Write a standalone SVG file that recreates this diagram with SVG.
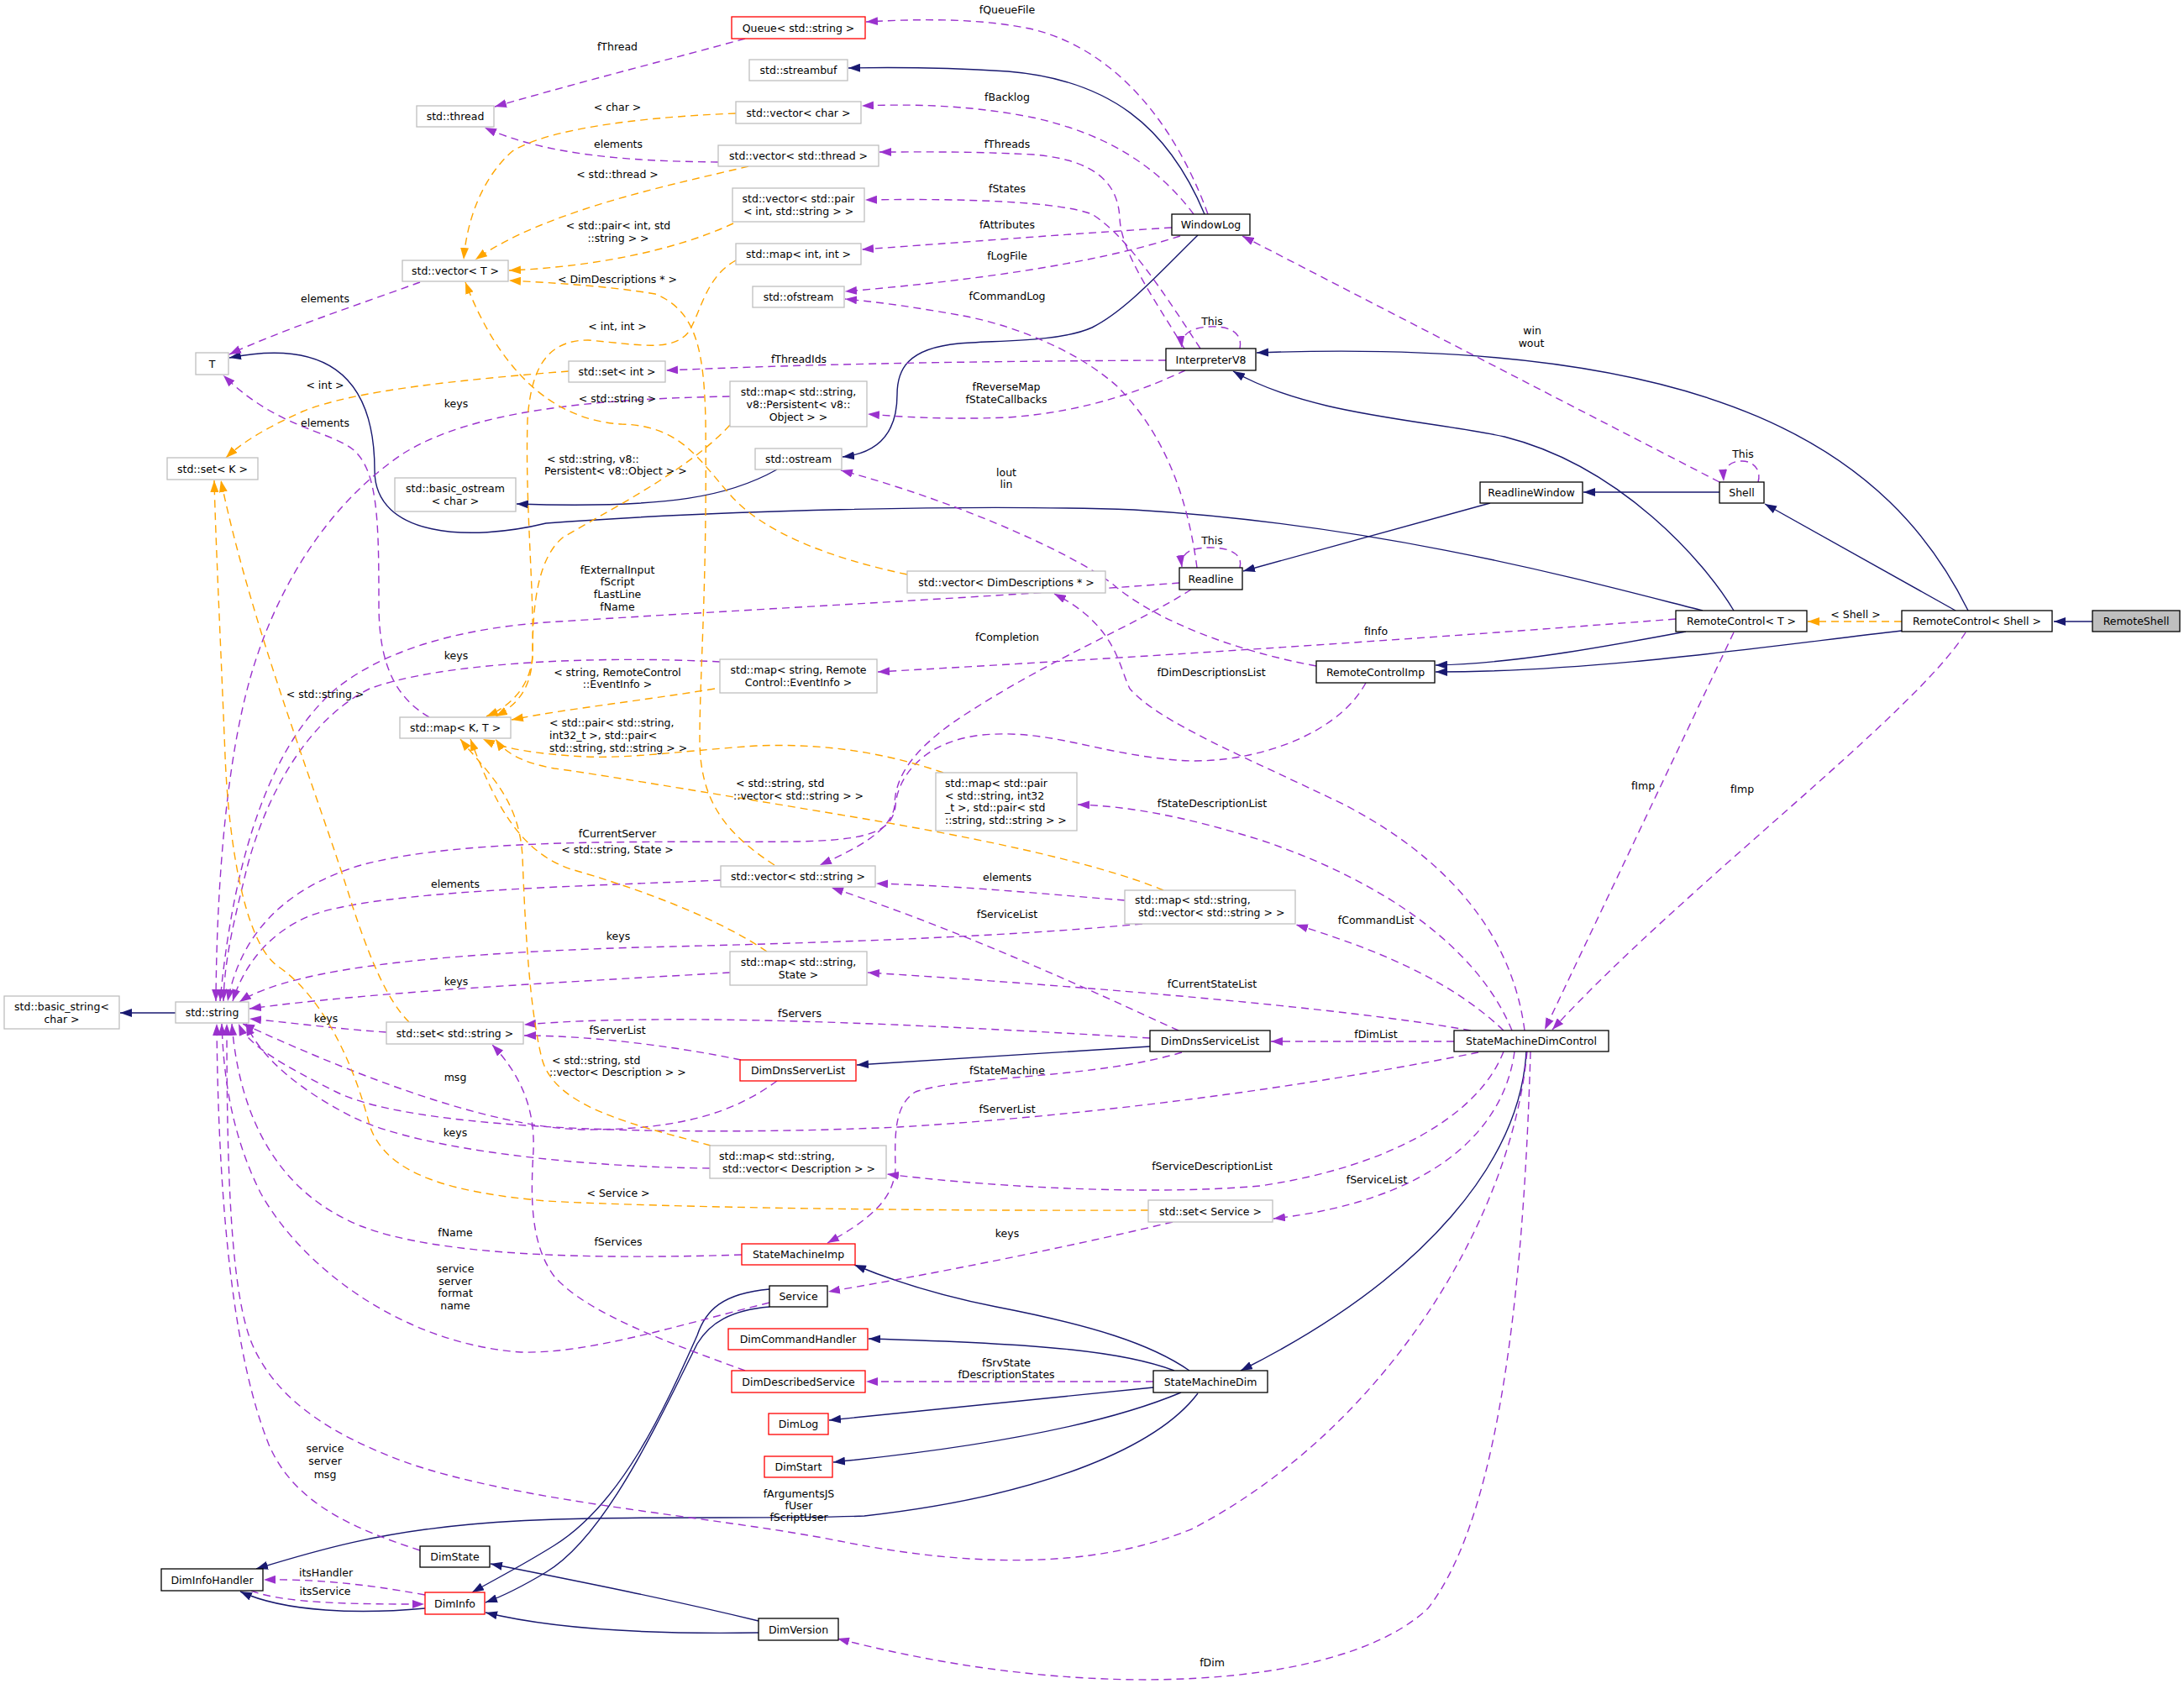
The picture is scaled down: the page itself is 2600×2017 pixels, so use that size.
<svg xmlns="http://www.w3.org/2000/svg" width="2600" height="2017" viewBox="0 0 2600 2017">
<defs>
<marker id="mb" viewBox="0 0 14 10" refX="14" refY="5" markerWidth="14" markerHeight="10" markerUnits="userSpaceOnUse" orient="auto"><path d="M0,0 L14,5 L0,10 z" fill="#191970"/></marker>
<marker id="mp" viewBox="0 0 14 10" refX="14" refY="5" markerWidth="14" markerHeight="10" markerUnits="userSpaceOnUse" orient="auto"><path d="M0,0 L14,5 L0,10 z" fill="#9a32cd"/></marker>
<marker id="mo" viewBox="0 0 14 10" refX="14" refY="5" markerWidth="14" markerHeight="10" markerUnits="userSpaceOnUse" orient="auto"><path d="M0,0 L14,5 L0,10 z" fill="#ffa500"/></marker>
</defs>
<style>
text{font-family:"DejaVu Sans","Liberation Sans",sans-serif;font-size:12.5px;fill:#000}
.n rect{fill:#fff;stroke-width:1.3}
.g rect{stroke:#bfbfbf}
.b rect{stroke:#000}
.r rect{stroke:#ff0000}
.n text,.lb text{text-anchor:middle;dominant-baseline:central}
.lb text.l{text-anchor:start}
.n text.l{text-anchor:start}
.inh{fill:none;stroke:#191970;stroke-width:1.4;marker-end:url(#mb)}
.use{fill:none;stroke:#9a32cd;stroke-width:1.4;stroke-dasharray:9,6;marker-end:url(#mp)}
.tpl{fill:none;stroke:#ffa500;stroke-width:1.4;stroke-dasharray:9,6;marker-end:url(#mo)}
</style>
<rect x="0" y="0" width="2600" height="2017" fill="#fff"/>
<g id="connectors">
<path class="inh" d="M2491,740 L2445,740"/>
<path class="inh" d="M2328,727 L2101,600"/>
<path class="inh" d="M2343,727 C2250,540 2050,400 1496,420"/>
<path class="inh" d="M2264,751 C2100,770 1900,800 1709,800"/>
<path class="inh" d="M2007,752 C1900,772 1800,790 1709,792"/>
<path class="inh" d="M2064,727 C2030,670 1930,555 1791,520 C1700,500 1560,495 1468,442"/>
<path class="inh" d="M2027,727 C1900,695 1650,625 1350,607 C1150,600 850,608 650,623 C560,645 446,640 446,560 C446,440 380,405 273,426"/>
<path class="inh" d="M1434,255 C1390,150 1320,95 1200,85 C1120,80 1060,80 1010,81"/>
<path class="inh" d="M1426,280 C1380,325 1340,370 1300,390 C1260,408 1180,405 1141,409 C1080,415 1068,440 1068,470 C1068,520 1040,540 1003,544"/>
<path class="inh" d="M925,559 C870,590 800,606 615,600"/>
<path class="inh" d="M1774,599 L1480,680"/>
<path class="inh" d="M2047,586 L1885,586"/>
<path class="inh" d="M1817,1252 C1810,1380 1700,1520 1477,1632"/>
<path class="inh" d="M1416,1632 C1370,1600 1300,1578 1186,1556 C1120,1543 1070,1528 1017,1506"/>
<path class="inh" d="M1398,1632 C1340,1610 1250,1600 1034,1594"/>
<path class="inh" d="M1373,1652 L987,1691"/>
<path class="inh" d="M1406,1658 C1330,1690 1200,1720 992,1741"/>
<path class="inh" d="M1426,1659 C1380,1720 1250,1780 1029,1805 C900,1810 700,1802 560,1815 C450,1825 380,1845 305,1868"/>
<path class="inh" d="M916,1535 C860,1540 840,1560 830,1590 C790,1680 740,1790 660,1840 C620,1865 590,1880 562,1896"/>
<path class="inh" d="M916,1556 C870,1560 845,1575 830,1600 C780,1700 720,1830 650,1872 C620,1890 600,1900 578,1908"/>
<path class="inh" d="M903,1944 C780,1946 660,1940 578,1920"/>
<path class="inh" d="M903,1930 C800,1905 700,1885 584,1862"/>
<path class="inh" d="M506,1915 C430,1922 340,1920 286,1895"/>
<path class="inh" d="M1369,1246 L1020,1268"/>
<path class="inh" d="M209,1206 L143,1206"/>

<path class="use" d="M1438,255 C1400,150 1330,60 1230,35 C1170,22 1100,22 1031,26"/>
<path class="use" d="M887,46 C800,70 700,95 589,127"/>
<path class="use" d="M855,193 C750,192 650,185 577,152"/>
<path class="use" d="M1421,255 C1380,200 1320,160 1230,140 C1150,124 1080,124 1026,126"/>
<path class="use" d="M1410,415 C1370,350 1335,300 1333,260 C1331,215 1300,190 1230,184 C1150,180 1100,181 1047,181"/>
<path class="use" d="M1429,415 C1380,340 1340,280 1300,255 C1260,240 1150,236 1030,238"/>
<path class="use" d="M1395,271 C1250,280 1100,292 1026,297"/>
<path class="use" d="M1405,281 C1300,315 1150,335 1006,347"/>
<path class="use" d="M1425,676 C1415,600 1390,520 1330,460 C1280,415 1200,385 1141,375 C1090,366 1050,360 1006,356"/>
<path class="use" d="M1388,429 C1200,430 1000,432 793,441"/>
<path class="use" d="M1411,441 C1370,460 1300,490 1200,497 C1120,500 1070,496 1033,493"/>
<path class="use" d="M1476,415 C1480,395 1462,388 1440,389 C1418,390 1405,398 1407,414"/>
<path class="use" d="M1476,676 C1480,660 1465,652 1440,652 C1415,652 1405,660 1407,675"/>
<path class="use" d="M2093,574 C2097,560 2088,549 2074,549 C2058,549 2051,558 2052,573"/>
<path class="use" d="M2047,574 L1479,281"/>
<path class="use" d="M1995,737 C1700,760 1400,780 1045,800"/>
<path class="use" d="M1567,793 C1470,775 1380,740 1330,700 C1290,665 1150,600 1001,560"/>
<path class="use" d="M1404,694 C1200,710 900,725 650,741 C530,750 450,780 400,820 C330,880 280,1000 262,1192"/>
<path class="use" d="M1418,702 C1350,745 1250,785 1150,850 C1080,895 1065,930 1065,960 C1060,990 1020,1010 976,1030"/>
<path class="use" d="M1626,813 C1590,880 1480,912 1400,905 C1300,896 1250,868 1170,875 C1100,882 1068,925 1066,960 C1062,992 1030,1000 950,1002 C800,1004 560,995 430,1030 C330,1060 285,1120 271,1192"/>
<path class="use" d="M869,472 C700,475 560,490 480,540 C390,600 330,700 300,800 C270,900 258,1050 257,1192"/>
<path class="use" d="M857,788 C700,780 520,790 440,820 C360,860 310,960 290,1050 C275,1110 267,1150 266,1192"/>
<path class="use" d="M858,1048 C700,1055 450,1060 370,1090 C320,1110 290,1150 277,1192"/>
<path class="use" d="M1360,1100 C1200,1115 1000,1122 800,1127 C550,1133 350,1150 285,1193"/>
<path class="use" d="M1339,1072 C1250,1065 1150,1055 1043,1052"/>
<path class="use" d="M869,1158 C700,1168 450,1180 297,1201"/>
<path class="use" d="M460,1229 C400,1225 350,1218 297,1213"/>
<path class="use" d="M925,1287 C880,1320 820,1345 700,1345 C580,1345 400,1270 289,1219"/>
<path class="use" d="M845,1391 C700,1390 500,1370 420,1330 C360,1300 310,1260 293,1219"/>
<path class="use" d="M883,1494 C700,1500 520,1495 430,1460 C330,1420 285,1330 276,1219"/>
<path class="use" d="M916,1551 C800,1580 700,1612 620,1610 C480,1600 360,1510 310,1420 C275,1350 266,1280 264,1219"/>
<path class="use" d="M500,1846 C420,1820 350,1790 320,1720 C280,1620 260,1450 258,1219"/>
<path class="use" d="M1818,1252 C1800,1450 1650,1700 1420,1820 C1300,1870 1150,1865 1000,1835 C850,1805 620,1790 480,1740 C400,1710 330,1670 300,1600 C275,1540 270,1400 270,1219"/>
<path class="use" d="M1822,1252 C1815,1500 1790,1800 1700,1915 C1600,2010 1300,2030 997,1951"/>
<path class="use" d="M1815,1227 C1800,1110 1720,1020 1600,958 C1480,900 1380,860 1345,820 C1332,795 1330,745 1255,707"/>
<path class="use" d="M2064,753 L1839,1226"/>
<path class="use" d="M2340,753 C2280,850 2000,1060 1848,1226"/>
<path class="use" d="M1800,1227 C1760,1130 1650,1050 1500,1000 C1420,975 1350,960 1283,958"/>
<path class="use" d="M1790,1227 C1720,1160 1620,1125 1543,1101"/>
<path class="use" d="M1751,1227 C1600,1200 1300,1175 1033,1158"/>
<path class="use" d="M1731,1240 L1513,1240"/>
<path class="use" d="M1369,1236 C1100,1220 800,1205 624,1220"/>
<path class="use" d="M882,1262 C800,1245 700,1233 624,1233"/>
<path class="use" d="M1403,1227 C1300,1180 1150,1110 990,1057"/>
<path class="use" d="M1407,1253 C1300,1285 1150,1280 1090,1300 C1065,1315 1065,1350 1066,1390 C1065,1430 1030,1455 985,1480"/>
<path class="use" d="M1760,1253 C1600,1285 1350,1325 1069,1342 C850,1352 500,1350 400,1300 C340,1270 295,1245 284,1219"/>
<path class="use" d="M1790,1252 C1760,1330 1650,1390 1500,1412 C1350,1425 1150,1410 1056,1398"/>
<path class="use" d="M1803,1252 C1790,1350 1700,1430 1516,1451"/>
<path class="use" d="M1373,1645 L1031,1645"/>
<path class="use" d="M887,1632 C800,1600 700,1565 660,1520 C630,1480 632,1420 635,1370 C637,1320 620,1280 586,1244"/>
<path class="use" d="M1396,1455 C1300,1478 1150,1510 986,1538"/>
<path class="use" d="M500,336 C420,365 330,395 273,422"/>
<path class="use" d="M511,854 C470,830 451,790 451,720 C451,620 450,560 420,535 C390,512 330,510 266,447"/>
<path class="use" d="M506,1899 C430,1885 370,1880 314,1881"/>
<path class="use" d="M299,1894 C340,1910 430,1910 505,1910"/>

<path class="tpl" d="M876,135 C750,140 650,155 610,180 C570,215 555,270 552,309"/>
<path class="tpl" d="M891,198 C800,220 650,250 566,309"/>
<path class="tpl" d="M873,266 C800,300 700,318 606,322"/>
<path class="tpl" d="M922,1030 C860,990 833,950 833,880 C833,800 842,700 840,500 C838,420 830,370 780,350 C720,340 660,337 606,334"/>
<path class="tpl" d="M1080,684 C990,665 910,635 870,590 C830,545 810,507 740,505 C650,500 590,430 554,336"/>
<path class="tpl" d="M876,310 C840,330 835,370 820,395 C800,420 760,410 700,405 C650,405 632,440 628,500 C625,600 636,700 634,780 C632,815 610,840 579,853"/>
<path class="tpl" d="M677,442 C550,452 420,465 360,490 C320,508 290,525 269,545"/>
<path class="tpl" d="M869,506 C820,560 720,610 670,640 C640,665 634,720 634,780 C633,820 615,840 590,853"/>
<path class="tpl" d="M851,820 C760,835 680,843 609,857"/>
<path class="tpl" d="M1123,920 C1050,895 980,885 900,888 C800,895 740,905 680,900 C640,897 600,892 575,880"/>
<path class="tpl" d="M1385,1060 C1300,1025 1150,995 1000,970 C850,945 700,920 660,915 C620,908 600,895 590,880"/>
<path class="tpl" d="M913,1133 C850,1090 750,1055 680,1035 C620,1015 590,960 560,880"/>
<path class="tpl" d="M846,1364 C760,1340 660,1320 645,1260 C630,1200 625,1100 622,1020 C618,950 580,920 548,880"/>
<path class="tpl" d="M487,1217 C460,1190 440,1140 420,1080 C380,950 300,750 263,572"/>
<path class="tpl" d="M1367,1441 C1100,1442 800,1438 650,1430 C540,1420 460,1400 440,1340 C425,1280 390,1190 330,1150 C290,1120 272,1000 268,900 C262,750 257,650 255,572"/>
<path class="tpl" d="M2264,740 L2152,740"/>

<g class="lb">
<text x="1199" y="11">fQueueFile</text>
<text x="735" y="55">fThread</text>
<text x="1199" y="115">fBacklog</text>
<text x="735" y="127">&lt; char &gt;</text>
<text x="736" y="171">elements</text>
<text x="1199" y="171">fThreads</text>
<text x="735" y="207">&lt; std::thread &gt;</text>
<text x="1199" y="224">fStates</text>
<text x="1199" y="267">fAttributes</text>
<text x="736" y="268">&lt; std::pair&lt; int, std</text>
<text x="736" y="283">::string &gt; &gt;</text>
<text x="1199" y="304">fLogFile</text>
<text x="735" y="332">&lt; DimDescriptions * &gt;</text>
<text x="1199" y="352">fCommandLog</text>
<text x="387" y="355">elements</text>
<text x="1443" y="382">This</text>
<text x="735" y="388">&lt; int, int &gt;</text>
<text x="1824" y="393">win</text>
<text x="1823" y="408">wout</text>
<text x="951" y="427">fThreadIds</text>
<text x="387" y="458">&lt; int &gt;</text>
<text x="1198" y="460">fReverseMap</text>
<text x="1198" y="475">fStateCallbacks</text>
<text x="735" y="474">&lt; std::string &gt;</text>
<text x="543" y="480">keys</text>
<text x="387" y="503">elements</text>
<text class="l" x="651" y="546">&lt; std::string, v8::</text>
<text class="l" x="648" y="560">Persistent&lt; v8::Object &gt; &gt;</text>
<text x="1198" y="562">lout</text>
<text x="1198" y="576">lin</text>
<text x="2075" y="540">This</text>
<text x="1443" y="643">This</text>
<text x="735" y="678">fExternalInput</text>
<text x="735" y="692">fScript</text>
<text x="735" y="707">fLastLine</text>
<text x="735" y="722">fName</text>
<text x="1638" y="751">fInfo</text>
<text x="1199" y="758">fCompletion</text>
<text x="543" y="780">keys</text>
<text x="735" y="800">&lt; string, RemoteControl</text>
<text x="735" y="814">::EventInfo &gt;</text>
<text x="1442" y="800">fDimDescriptionsList</text>
<text x="387" y="826">&lt; std::string &gt;</text>
<text class="l" x="654" y="860">&lt; std::pair&lt; std::string,</text>
<text class="l" x="654" y="875">int32_t &gt;, std::pair&lt;</text>
<text class="l" x="654" y="890">std::string, std::string &gt; &gt;</text>
<text class="l" x="876" y="932">&lt; std::string, std</text>
<text class="l" x="873" y="947">::vector&lt; std::string &gt; &gt;</text>
<text x="1956" y="935">fImp</text>
<text x="2074" y="939">fImp</text>
<text x="1443" y="956">fStateDescriptionList</text>
<text x="735" y="992">fCurrentServer</text>
<text x="735" y="1011">&lt; std::string, State &gt;</text>
<text x="1199" y="1044">elements</text>
<text x="542" y="1052">elements</text>
<text x="1199" y="1088">fServiceList</text>
<text x="1638" y="1095">fCommandList</text>
<text x="736" y="1114">keys</text>
<text x="543" y="1168">keys</text>
<text x="1443" y="1171">fCurrentStateList</text>
<text x="952" y="1206">fServers</text>
<text x="388" y="1212">keys</text>
<text x="735" y="1226">fServerList</text>
<text x="1638" y="1231">fDimList</text>
<text class="l" x="657" y="1262">&lt; std::string, std</text>
<text class="l" x="654" y="1276">::vector&lt; Description &gt; &gt;</text>
<text x="1199" y="1274">fStateMachine</text>
<text x="542" y="1282">msg</text>
<text x="1199" y="1320">fServerList</text>
<text x="542" y="1348">keys</text>
<text x="1443" y="1388">fServiceDescriptionList</text>
<text x="1639" y="1404">fServiceList</text>
<text x="736" y="1420">&lt; Service &gt;</text>
<text x="1199" y="1468">keys</text>
<text x="542" y="1467">fName</text>
<text x="736" y="1478">fServices</text>
<text x="542" y="1510">service</text>
<text x="542" y="1525">server</text>
<text x="542" y="1539">format</text>
<text x="542" y="1554">name</text>
<text x="1198" y="1622">fSrvState</text>
<text x="1198" y="1636">fDescriptionStates</text>
<text x="387" y="1724">service</text>
<text x="387" y="1739">server</text>
<text x="387" y="1755">msg</text>
<text x="951" y="1778">fArgumentsJS</text>
<text x="951" y="1792">fUser</text>
<text x="951" y="1806">fScriptUser</text>
<text x="388" y="1872">itsHandler</text>
<text x="387" y="1894">itsService</text>
<text x="1443" y="1979">fDim</text>
<text x="2209" y="731">&lt; Shell &gt;</text>
</g>
</g>

<g id="RemoteShell" class="n b"><rect x="2491" y="727" width="104" height="25" style="fill:#bfbfbf"/><text x="2543" y="739.5">RemoteShell</text></g>
<g id="RemoteControlShell" class="n b"><rect x="2264" y="727" width="179" height="25"/><text x="2353.5" y="739.5">RemoteControl&lt; Shell &gt;</text></g>
<g id="RemoteControlT" class="n b"><rect x="1995" y="727" width="156" height="25"/><text x="2073" y="739.5">RemoteControl&lt; T &gt;</text></g>
<g id="Shell" class="n b"><rect x="2047" y="574" width="53" height="25"/><text x="2073.5" y="586.5">Shell</text></g>
<g id="ReadlineWindow" class="n b"><rect x="1762" y="574" width="122" height="25"/><text x="1823" y="586.5">ReadlineWindow</text></g>
<g id="Readline" class="n b"><rect x="1404" y="676" width="75" height="26"/><text x="1441.5" y="689">Readline</text></g>
<g id="RemoteControlImp" class="n b"><rect x="1567" y="787" width="141" height="26"/><text x="1637.5" y="800">RemoteControlImp</text></g>
<g id="InterpreterV8" class="n b"><rect x="1388" y="415" width="107" height="26"/><text x="1441.5" y="428">InterpreterV8</text></g>
<g id="WindowLog" class="n b"><rect x="1395" y="255" width="93" height="25"/><text x="1441.5" y="267.5">WindowLog</text></g>
<g id="Queue" class="n r"><rect x="871" y="20" width="159" height="26"/><text x="950.5" y="33">Queue&lt; std::string &gt;</text></g>
<g id="streambuf" class="n g"><rect x="892" y="71" width="117" height="25"/><text x="950.5" y="83.5">std::streambuf</text></g>
<g id="vector_char" class="n g"><rect x="876" y="121" width="149" height="26"/><text x="950.5" y="134">std::vector&lt; char &gt;</text></g>
<g id="vector_thread" class="n g"><rect x="855" y="173" width="191" height="25"/><text x="950.5" y="185.5">std::vector&lt; std::thread &gt;</text></g>
<g id="vector_pair" class="n g"><rect x="872" y="224" width="157" height="40"/><text x="950.5" y="236.5">std::vector&lt; std::pair</text><text x="950.5" y="251.5">&lt; int, std::string &gt; &gt;</text></g>
<g id="map_int_int" class="n g"><rect x="876" y="290" width="149" height="25"/><text x="950.5" y="302.5">std::map&lt; int, int &gt;</text></g>
<g id="ofstream" class="n g"><rect x="896" y="341" width="109" height="25"/><text x="950.5" y="353.5">std::ofstream</text></g>
<g id="set_int" class="n g"><rect x="677" y="430" width="115" height="25"/><text x="734.5" y="442.5">std::set&lt; int &gt;</text></g>
<g id="map_v8" class="n g"><rect x="869" y="454" width="163" height="54"/><text x="950.5" y="466">std::map&lt; std::string,</text><text x="950.5" y="481">v8::Persistent&lt; v8::</text><text x="950.5" y="496">Object &gt; &gt;</text></g>
<g id="ostream" class="n g"><rect x="899" y="534" width="103" height="25"/><text x="950.5" y="546.5">std::ostream</text></g>
<g id="vector_dimdesc" class="n g"><rect x="1080" y="680" width="236" height="26"/><text x="1198" y="693">std::vector&lt; DimDescriptions * &gt;</text></g>
<g id="thread" class="n g"><rect x="496" y="126" width="92" height="25"/><text x="542" y="138.5">std::thread</text></g>
<g id="vector_T" class="n g"><rect x="479" y="310" width="126" height="25"/><text x="542" y="322.5">std::vector&lt; T &gt;</text></g>
<g id="T" class="n g"><rect x="233" y="420" width="39" height="26"/><text x="252.5" y="433">T</text></g>
<g id="set_K" class="n g"><rect x="199" y="545" width="108" height="26"/><text x="253" y="558">std::set&lt; K &gt;</text></g>
<g id="basic_ostream" class="n g"><rect x="470" y="569" width="144" height="40"/><text x="542" y="581.5">std::basic_ostream</text><text x="542" y="596.5">&lt; char &gt;</text></g>
<g id="map_KT" class="n g"><rect x="476" y="854" width="132" height="25"/><text x="542" y="866.5">std::map&lt; K, T &gt;</text></g>
<g id="basic_string" class="n g"><rect x="5" y="1186" width="137" height="39"/><text x="73.5" y="1198">std::basic_string&lt;</text><text x="73.5" y="1213">char &gt;</text></g>
<g id="string" class="n g"><rect x="209" y="1193" width="87" height="25"/><text x="252.5" y="1205.5">std::string</text></g>
<g id="set_string" class="n g"><rect x="460" y="1217" width="163" height="26"/><text x="541.5" y="1230">std::set&lt; std::string &gt;</text></g>
<g id="map_eventinfo" class="n g"><rect x="857" y="785" width="187" height="40"/><text x="950.5" y="797.5">std::map&lt; string, Remote</text><text x="950.5" y="812.5">Control::EventInfo &gt;</text></g>
<g id="map_pair" class="n g"><rect x="1114" y="920" width="168" height="69"/><text class="l" x="1125" y="932">std::map&lt; std::pair</text><text class="l" x="1125" y="947">&lt; std::string, int32</text><text class="l" x="1125" y="961.5">_t &gt;, std::pair&lt; std</text><text class="l" x="1125" y="976">::string, std::string &gt; &gt;</text></g>
<g id="vector_string" class="n g"><rect x="858" y="1031" width="184" height="25"/><text x="950" y="1043.5">std::vector&lt; std::string &gt;</text></g>
<g id="map_vstring" class="n g"><rect x="1339" y="1060" width="203" height="40"/><text class="l" x="1351" y="1071.5">std::map&lt; std::string,</text><text class="l" x="1355" y="1086.5">std::vector&lt; std::string &gt; &gt;</text></g>
<g id="map_state" class="n g"><rect x="869" y="1133" width="163" height="40"/><text x="950.5" y="1145.5">std::map&lt; std::string,</text><text x="950.5" y="1160.5">State &gt;</text></g>
<g id="DimDnsServiceList" class="n b"><rect x="1369" y="1227" width="143" height="25"/><text x="1440.5" y="1239.5">DimDnsServiceList</text></g>
<g id="StateMachineDimControl" class="n b"><rect x="1731" y="1227" width="184" height="25"/><text x="1823" y="1239.5">StateMachineDimControl</text></g>
<g id="DimDnsServerList" class="n r"><rect x="881" y="1262" width="138" height="25"/><text x="950" y="1274.5">DimDnsServerList</text></g>
<g id="map_desc" class="n g"><rect x="845" y="1364" width="210" height="39"/><text class="l" x="856" y="1376">std::map&lt; std::string,</text><text class="l" x="860" y="1391">std::vector&lt; Description &gt; &gt;</text></g>
<g id="set_service" class="n g"><rect x="1367" y="1429" width="148" height="26"/><text x="1441" y="1442">std::set&lt; Service &gt;</text></g>
<g id="StateMachineImp" class="n r"><rect x="883" y="1481" width="135" height="25"/><text x="950.5" y="1493.5">StateMachineImp</text></g>
<g id="Service" class="n b"><rect x="916" y="1531" width="69" height="25"/><text x="950.5" y="1543.5">Service</text></g>
<g id="DimCommandHandler" class="n r"><rect x="867" y="1582" width="166" height="25"/><text x="950" y="1594.5">DimCommandHandler</text></g>
<g id="DimDescribedService" class="n r"><rect x="871" y="1632" width="159" height="26"/><text x="950.5" y="1645">DimDescribedService</text></g>
<g id="DimLog" class="n r"><rect x="915" y="1683" width="71" height="25"/><text x="950.5" y="1695.5">DimLog</text></g>
<g id="DimStart" class="n r"><rect x="910" y="1734" width="81" height="25"/><text x="950.5" y="1746.5">DimStart</text></g>
<g id="StateMachineDim" class="n b"><rect x="1373" y="1632" width="136" height="26"/><text x="1441" y="1645">StateMachineDim</text></g>
<g id="DimState" class="n b"><rect x="500" y="1841" width="83" height="25"/><text x="541.5" y="1853.5">DimState</text></g>
<g id="DimInfoHandler" class="n b"><rect x="192" y="1868" width="121" height="26"/><text x="252.5" y="1881">DimInfoHandler</text></g>
<g id="DimInfo" class="n r"><rect x="506" y="1896" width="71" height="26"/><text x="541.5" y="1909">DimInfo</text></g>
<g id="DimVersion" class="n b"><rect x="903" y="1927" width="95" height="26"/><text x="950.5" y="1940">DimVersion</text></g>
</svg>
